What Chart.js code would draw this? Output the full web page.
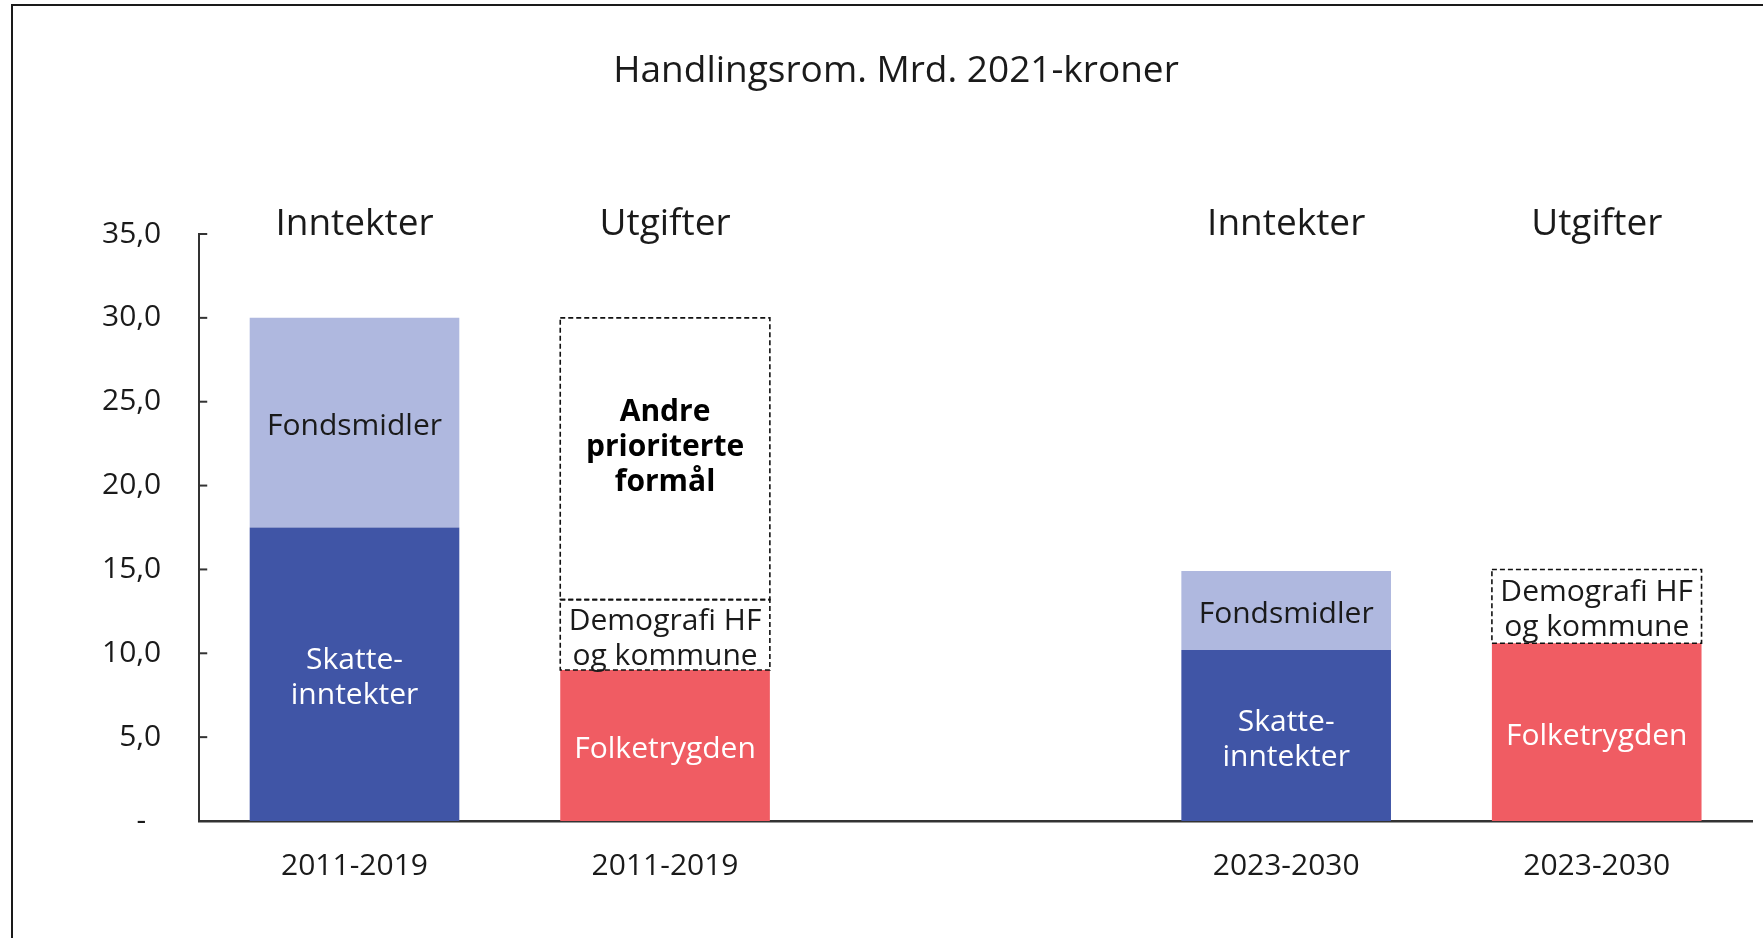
<!DOCTYPE html>
<html>
<head>
<meta charset="utf-8">
<script src="https://cdn.jsdelivr.net/npm/chart.js@4.4.1/dist/chart.umd.min.js"></script>
<style>
    html, body { margin: 0; padding: 0; background: #fff; }
    #wrap { position: relative; width: 1763px; height: 938px; }
    #frame {
        position: absolute; left: 11px; top: 4px; right: 0; bottom: 0;
        border-top: 2px solid #1a1a1a; border-left: 2px solid #1a1a1a;
        pointer-events: none;
    }
</style>
</head>
<body>
<div id="wrap">
    <canvas id="myChart" width="1763" height="938"></canvas>
    <div id="frame"></div>
</div>
<script>

const categories = ['2011-2019', '2011-2019', '', '2023-2030', '2023-2030'];
const topLabels = ['Inntekter', 'Utgifter', '', 'Inntekter', 'Utgifter'];
const chartTitle = 'Handlingsrom. Mrd. 2021-kroner';

const skatteinntekter = [17.5, null, null, 10.2, null];
const fondsmidler = [12.5, null, null, 4.7, null];
const folketrygden = [null, 9.0, null, null, 10.6];
const demografi = [null, 4.2, null, null, 4.4];
const andreFormal = [null, 16.8, null, null, null];

const yTicks = [0, 5, 10, 15, 20, 25, 30, 35];

const FONT = "'Open Sans', 'Noto Sans', sans-serif";

const data = {
    labels: categories,
    datasets: [
        {
            label: 'Skatteinntekter',
            data: skatteinntekter,
            backgroundColor: 'rgb(64, 85, 166)',
            segText: ['Skatte-', 'inntekter'],
            segColor: '#ffffff'
        },
        {
            label: 'Fondsmidler',
            data: fondsmidler,
            backgroundColor: 'rgb(175, 184, 223)',
            segText: ['Fondsmidler'],
            segColor: '#1a1a1a'
        },
        {
            label: 'Folketrygden',
            data: folketrygden,
            backgroundColor: 'rgb(240, 92, 99)',
            segText: ['Folketrygden'],
            segColor: '#ffffff'
        },
        {
            label: 'Demografi HF og kommune',
            data: demografi,
            backgroundColor: '#ffffff',
            dashed: true,
            segText: ['Demografi HF', 'og kommune'],
            segColor: '#1a1a1a'
        },
        {
            label: 'Andre prioriterte formål',
            data: andreFormal,
            backgroundColor: '#ffffff',
            dashed: true,
            segText: ['Andre', 'prioriterte', 'formål'],
            segColor: '#000000',
            segBold: true,
            segShift: -15
        }
    ]
};

// dashed outlines, text inside bars, inward y ticks, title and the header labels
const extras = {
    id: 'extras',
    afterDatasetsDraw(chart) {
        const ctx = chart.ctx;
        const area = chart.chartArea;
        const x = chart.scales.x;
        const y = chart.scales.y;

        ctx.save();
        chart.data.datasets.forEach((ds, i) => {
            const meta = chart.getDatasetMeta(i);
            meta.data.forEach((bar, j) => {
                if (ds.data[j] == null || !ds.dashed) return;
                const left = bar.x - bar.width / 2;
                const top = Math.min(bar.y, bar.base);
                const h = Math.abs(bar.base - bar.y);
                ctx.setLineDash([5, 3]);
                ctx.lineWidth = 1.6;
                ctx.strokeStyle = '#111';
                ctx.strokeRect(left, top, bar.width, h);
                ctx.setLineDash([]);
            });
        });

        chart.data.datasets.forEach((ds, i) => {
            const meta = chart.getDatasetMeta(i);
            meta.data.forEach((bar, j) => {
                if (ds.data[j] == null || !ds.segText) return;
                const lh = 35;
                const cy = (bar.y + bar.base) / 2 + 4 + (ds.segShift || 0);
                ctx.font = (ds.segBold ? 'bold ' : '') + '30px ' + FONT;
                ctx.fillStyle = ds.segColor;
                ctx.textAlign = 'center';
                ctx.textBaseline = 'middle';
                const n = ds.segText.length;
                ds.segText.forEach((t, k) => {
                    ctx.fillText(t, bar.x, cy + (k - (n - 1) / 2) * lh);
                });
            });
        });

        // y ticks pointing into the plot
        ctx.strokeStyle = '#333';
        ctx.lineWidth = 2;
        yTicks.forEach(v => {
            const py = y.getPixelForValue(v);
            ctx.beginPath();
            ctx.moveTo(area.left, py);
            ctx.lineTo(area.left + 8, py);
            ctx.stroke();
        });

        // column headers
        ctx.font = '37px ' + FONT;
        ctx.fillStyle = '#1a1a1a';
        ctx.textAlign = 'center';
        ctx.textBaseline = 'middle';
        topLabels.forEach((t, j) => {
            if (!t) return;
            ctx.fillText(t, x.getPixelForValue(j), area.top - 10);
        });

        // title
        ctx.font = '37px ' + FONT;
        ctx.fillText(chartTitle, 896, 71);
        ctx.restore();
    }
};

const config = {
    type: 'bar',
    data: data,
    plugins: [extras],
    options: {
        responsive: false,
        animation: false,
        devicePixelRatio: 1,
        layout: {
            padding: { left: 64, right: 11, top: 234, bottom: 27 }
        },
        datasets: {
            bar: {
                barPercentage: 0.675,
                categoryPercentage: 1.0,
                borderWidth: 0
            }
        },
        plugins: {
            legend: { display: false },
            tooltip: { enabled: false },
            title: { display: false }
        },
        scales: {
            x: {
                stacked: true,
                grid: { display: false, drawTicks: false },
                border: { display: true, color: '#333', width: 2.5 },
                ticks: {
                    color: '#1a1a1a',
                    font: { family: FONT, size: 30 },
                    padding: 27,
                    maxRotation: 0,
                    autoSkip: false
                }
            },
            y: {
                stacked: true,
                min: 0,
                max: 35,
                grid: { display: false, drawTicks: false },
                border: { display: true, color: '#333', width: 2 },
                afterBuildTicks: axis => {
                    axis.ticks = yTicks.map(v => ({ value: v }));
                },
                ticks: {
                    color: '#1a1a1a',
                    font: { family: FONT, size: 30 },
                    padding: 38,
                    callback: v => v === 0 ? '-\u2002' : v.toFixed(1).replace('.', ',')
                }
            }
        }
    }
};

const myChart = new Chart(
    document.getElementById('myChart'),
    config
);
</script>
</body>
</html>
